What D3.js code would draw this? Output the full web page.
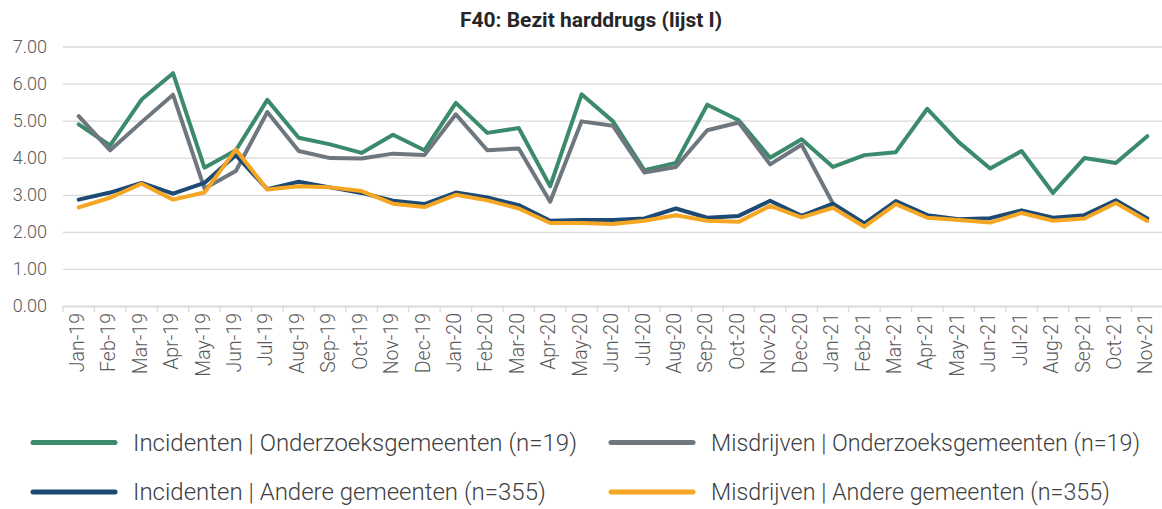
<!DOCTYPE html>
<html>
<head>
<meta charset="utf-8">
<script src="https://cdn.jsdelivr.net/npm/d3@7"></script>
<style>
  body { margin: 0; background: #fff; }
  text { font-family: Roboto, "Noto Sans", sans-serif; }
</style>
</head>
<body>
<svg id="chart"></svg>
<script>
const W = 1162, H = 509;

// maanden
const months = ["Jan-19","Feb-19","Mar-19","Apr-19","May-19","Jun-19","Jul-19","Aug-19","Sep-19","Oct-19","Nov-19","Dec-19",
  "Jan-20","Feb-20","Mar-20","Apr-20","May-20","Jun-20","Jul-20","Aug-20","Sep-20","Oct-20","Nov-20","Dec-20",
  "Jan-21","Feb-21","Mar-21","Apr-21","May-21","Jun-21","Jul-21","Aug-21","Sep-21","Oct-21","Nov-21"];

const incOnderzoek = [4.90,4.33,5.57,6.28,3.73,4.20,5.56,4.54,4.36,4.13,4.62,4.20,
  5.48,4.67,4.80,3.23,5.71,4.98,3.66,3.86,5.43,5.01,4.00,4.50,
  3.75,4.07,4.15,5.32,4.42,3.71,4.18,3.05,3.99,3.86,4.58];
const misOnderzoek = [5.12,4.20,4.96,5.70,3.17,3.64,5.23,4.18,3.99,3.98,4.11,4.07,
  5.17,4.20,4.25,2.81,4.98,4.86,3.60,3.75,4.74,4.95,3.82,4.35,
  2.76,null,null,null,null,null,null,null,null,null,null];
const incAndere = [2.87,3.06,3.32,3.03,3.32,4.07,3.15,3.35,3.20,3.05,2.84,2.75,
  3.06,2.93,2.72,2.30,2.32,2.32,2.36,2.63,2.38,2.43,2.84,2.43,
  2.76,2.23,2.83,2.45,2.34,2.37,2.58,2.38,2.45,2.85,2.36];
const misAndere = [2.66,2.92,3.30,2.87,3.06,4.22,3.14,3.23,3.20,3.10,2.76,2.67,
  3.00,2.85,2.63,2.24,2.24,2.21,2.30,2.45,2.30,2.27,2.70,2.39,
  2.65,2.14,2.75,2.38,2.32,2.25,2.51,2.30,2.36,2.78,2.29];

const yTicks = [0,1,2,3,4,5,6,7];

const series = [
  { name: "Incidenten | Onderzoeksgemeenten (n=19)", values: incOnderzoek, color: "#3b8a6b" },
  { name: "Misdrijven | Onderzoeksgemeenten (n=19)", values: misOnderzoek, color: "#6e767e" },
  { name: "Incidenten | Andere gemeenten (n=355)", values: incAndere, color: "#1d4a74" },
  { name: "Misdrijven | Andere gemeenten (n=355)", values: misAndere, color: "#f5a623" }
];

const margin = { top: 46.5, right: -1, bottom: 203, left: 63 };

const svg = d3.select("#chart").attr("width", W).attr("height", H);

const x = d3.scaleBand().domain(months).range([margin.left, W - margin.right]).padding(0);
const y = d3.scaleLinear().domain([0, 7]).range([H - margin.bottom, margin.top]);

// titel
svg.append("text")
  .attr("x", 591).attr("y", 27)
  .attr("text-anchor", "middle")
  .attr("font-size", 21).attr("font-weight", "bold").attr("fill", "#262626")
  .text("F40: Bezit harddrugs (lijst I)");

// gridlijnen + y-as
const yAxis = svg.append("g")
  .attr("transform", "translate(" + margin.left + ",0)")
  .call(d3.axisLeft(y).tickValues(yTicks).tickFormat(d3.format(".2f"))
    .tickSize(-(W - margin.right - margin.left)).tickPadding(16));
yAxis.select(".domain").remove();
yAxis.selectAll(".tick line").attr("stroke", "#d9d9d9").attr("stroke-width", 1.3);
yAxis.selectAll(".tick text").attr("font-size", 18).attr("font-weight", 300)
  .attr("fill", "#595959").attr("font-family", "Roboto");

// x-as
const xAxis = svg.append("g")
  .attr("transform", "translate(0," + y(0) + ")")
  .call(d3.axisBottom(x).tickSize(0).tickPadding(8));
xAxis.select(".domain").attr("stroke", "#d9d9d9").attr("stroke-width", 1.3);
xAxis.selectAll(".tick text")
  .attr("font-size", 19.5).attr("font-weight", 300).attr("fill", "#595959").attr("font-family", "Roboto")
  .attr("transform", "rotate(-90)")
  .attr("text-anchor", "end")
  .attr("dx", "-0.36em").attr("dy", "0em")
  .attr("x", 0).attr("y", 0)
  .style("dominant-baseline", "middle");

// scheidingsstreepjes tussen maanden
const bounds = months.map(m => x(m)).concat([x(months[months.length - 1]) + x.bandwidth()]);
svg.append("g").selectAll("line")
  .data(bounds)
  .enter()
  .append("line")
  .attr("x1", d => d).attr("x2", d => d)
  .attr("y1", y(0)).attr("y2", y(0) + 6)
  .attr("stroke", "#d9d9d9").attr("stroke-width", 1.3);

// lijnen
const line = d3.line()
  .defined(d => d.v !== null)
  .x(d => x(d.m) + x.bandwidth() / 2)
  .y(d => y(d.v));

svg.append("g").selectAll("path")
  .data(series)
  .enter()
  .append("path")
  .attr("d", s => line(s.values.map((v, i) => ({ m: months[i], v: v }))))
  .attr("fill", "none")
  .attr("stroke", s => s.color)
  .attr("stroke-width", 4)
  .attr("stroke-linejoin", "round")
  .attr("stroke-linecap", "round");

// legenda
const legPos = [[31, 442.5], [609, 442.5], [31, 492], [609, 492]];
const leg = svg.append("g").selectAll("g")
  .data(series)
  .enter()
  .append("g")
  .attr("transform", (s, i) => "translate(" + legPos[i][0] + "," + legPos[i][1] + ")");
leg.append("line")
  .attr("x1", 2).attr("x2", 84).attr("y1", 0).attr("y2", 0)
  .attr("stroke", s => s.color).attr("stroke-width", 5).attr("stroke-linecap", "round");
leg.append("text")
  .attr("x", 102).attr("y", 0)
  .attr("dy", "0.35em")
  .attr("font-size", (s, i) => i % 2 ? 23.3 : 24).attr("font-weight", 300)
  .attr("fill", "#404040").attr("font-family", "Roboto")
  .text(s => s.name);
</script>
</body>
</html>
